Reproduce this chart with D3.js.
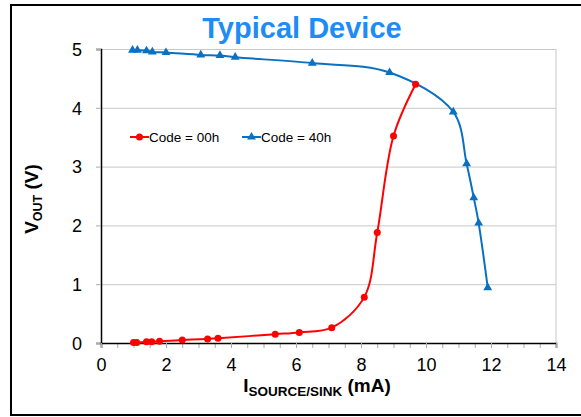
<!DOCTYPE html>
<html>
<head>
<meta charset="utf-8">
<script src="https://cdn.jsdelivr.net/npm/d3@7"></script>
<style>
	body { margin: 0; background: #fff; }
	svg { display: block; font-family: "Liberation Sans", Arial, sans-serif; }
	.grid line { stroke: #c8c8c8; }
	.grid .domain { display: none; }
</style>
</head>
<body>
<div class="chart"></div>
<script>
(function() {

	// DATA
	var title = 'Typical Device';
	var seriesNames = ['Code = 00h', 'Code = 40h'];
	var code00X = [1.0, 1.1, 1.4, 1.56, 1.8, 2.5, 3.28, 3.6, 5.36, 6.1, 7.1, 8.1, 8.5, 9.0, 9.68];
	var code00Y = [0.01, 0.01, 0.02, 0.02, 0.03, 0.05, 0.07, 0.08, 0.15, 0.18, 0.26, 0.78, 1.88, 3.52, 4.40];
	var code40X = [0.97, 1.12, 1.4, 1.58, 2.0, 3.07, 3.66, 4.13, 6.5, 8.88, 10.84, 11.25, 11.47, 11.62, 11.9];
	var code40Y = [4.98, 4.98, 4.97, 4.95, 4.94, 4.90, 4.89, 4.86, 4.76, 4.60, 3.93, 3.05, 2.47, 2.04, 0.94];
	var xTicks = [0, 2, 4, 6, 8, 10, 12, 14];
	var yTicks = [0, 1, 2, 3, 4, 5];

	var W = 581, H = 417;
	var margin = {top: 49, left: 101, right: 25, bottom: 74};
	var width = W - margin.left - margin.right;
	var height = H - margin.top - margin.bottom;

	var svg = d3.select('.chart').append('svg')
		.attr('width', W)
		.attr('height', H);

	// outer frame (right edge falls outside the picture)
	svg.append('rect')
		.attr('x', 11).attr('y', 5)
		.attr('width', W + 10).attr('height', 410)
		.attr('fill', 'none')
		.attr('stroke', '#000')
		.attr('stroke-width', 2);

	svg.append('text')
		.attr('x', 302).attr('y', 38)
		.attr('text-anchor', 'middle')
		.attr('font-size', 29)
		.attr('font-weight', 'bold')
		.attr('fill', '#1e8cf5')
		.text(title);

	var x = d3.scaleLinear().domain([0, 14]).range([0, width]);
	var y = d3.scaleLinear().domain([0, 5]).range([height, 0]);

	var g = svg.append('g')
		.attr('transform', 'translate(' + margin.left + ',' + margin.top + ')');

	// gridlines
	g.append('g')
		.attr('class', 'grid')
		.call(d3.axisLeft(y).tickValues(yTicks.slice(1)).tickSize(-width).tickFormat(''));

	// right border of plot area
	g.append('line')
		.attr('x1', width).attr('x2', width)
		.attr('y1', 0).attr('y2', height)
		.attr('stroke', '#c8c8c8');

	// y axis
	var yAxis = g.append('g')
		.call(d3.axisLeft(y).tickValues(yTicks).tickSize(5).tickPadding(14).tickFormat(d3.format('d')));
	yAxis.select('.domain').attr('stroke', '#000').attr('stroke-width', 1.5);
	yAxis.selectAll('.tick line').attr('stroke', '#aaa');
	yAxis.selectAll('text').attr('font-size', 18).attr('fill', '#000').attr('dy', '0.35em');

	// x axis minor ticks
	g.append('g')
		.attr('transform', 'translate(0,' + height + ')')
		.call(d3.axisBottom(x).tickValues(d3.range(0, 14.01, 0.5)).tickSize(5).tickFormat(''))
		.call(function(a) {
			a.select('.domain').remove();
			a.selectAll('line').attr('stroke', '#aaa');
		});

	var xAxis = g.append('g')
		.attr('transform', 'translate(0,' + height + ')')
		.call(d3.axisBottom(x).tickValues(xTicks).tickSize(5).tickPadding(10).tickFormat(d3.format('d')));
	xAxis.select('.domain').attr('stroke', '#000').attr('stroke-width', 1.5);
	xAxis.selectAll('.tick line').attr('stroke', '#aaa');
	xAxis.selectAll('text').attr('font-size', 18).attr('fill', '#000');

	// axis titles
	var xt = svg.append('text')
		.attr('x', 317).attr('y', 392)
		.attr('text-anchor', 'middle')
		.attr('font-size', 19)
		.attr('font-weight', 'bold');
	xt.append('tspan').text('I');
	xt.append('tspan').attr('font-size', 13.5).attr('dy', 4).text('SOURCE/SINK');
	xt.append('tspan').attr('dy', -4).text(' (mA)');

	var yt = svg.append('text')
		.attr('transform', 'translate(38,199) rotate(-90)')
		.attr('text-anchor', 'middle')
		.attr('font-size', 19)
		.attr('font-weight', 'bold');
	yt.append('tspan').text('V');
	yt.append('tspan').attr('font-size', 12.5).attr('dy', 4).text('OUT');
	yt.append('tspan').attr('dy', -4).text(' (V)');

	// series
	var red = '#ff0000', blue = '#0a70c2';
	var code00 = code00X.map(function(v, i) { return [v, code00Y[i]]; });
	var code40 = code40X.map(function(v, i) { return [v, code40Y[i]]; });

	var line = d3.line()
		.x(function(d) { return x(d[0]); })
		.y(function(d) { return y(d[1]); })
		.curve(d3.curveCatmullRom.alpha(0.5));

	var tri = d3.symbol().type(d3.symbolTriangle).size(34);

	g.append('path').datum(code40)
		.attr('d', line).attr('fill', 'none')
		.attr('stroke', blue).attr('stroke-width', 2);
	g.selectAll('.m40').data(code40).enter().append('path')
		.attr('class', 'm40')
		.attr('d', tri)
		.attr('transform', function(d) { return 'translate(' + x(d[0]) + ',' + y(d[1]) + ')'; })
		.attr('fill', blue);

	g.append('path').datum(code00)
		.attr('d', line).attr('fill', 'none')
		.attr('stroke', red).attr('stroke-width', 2);
	g.selectAll('.m00').data(code00).enter().append('circle')
		.attr('class', 'm00')
		.attr('cx', function(d) { return x(d[0]); })
		.attr('cy', function(d) { return y(d[1]); })
		.attr('r', 3.5)
		.attr('fill', red);

	// legend
	var legend = svg.append('g').attr('transform', 'translate(130,137)');
	[[0, red, 'c'], [112, blue, 't']].forEach(function(it, i) {
		var lg = legend.append('g').attr('transform', 'translate(' + it[0] + ',0)');
		lg.append('line').attr('x1', 0).attr('x2', 19).attr('stroke', it[1]).attr('stroke-width', 2);
		if (it[2] === 'c') {
			lg.append('circle').attr('cx', 9.5).attr('r', 3.5).attr('fill', it[1]);
		} else {
			lg.append('path').attr('d', tri).attr('transform', 'translate(9.5,0)').attr('fill', it[1]);
		}
		lg.append('text').attr('x', 19).attr('dy', '0.35em')
			.attr('font-size', 13.5).text(seriesNames[i]);
	});

})()
</script>
</body>
</html>
